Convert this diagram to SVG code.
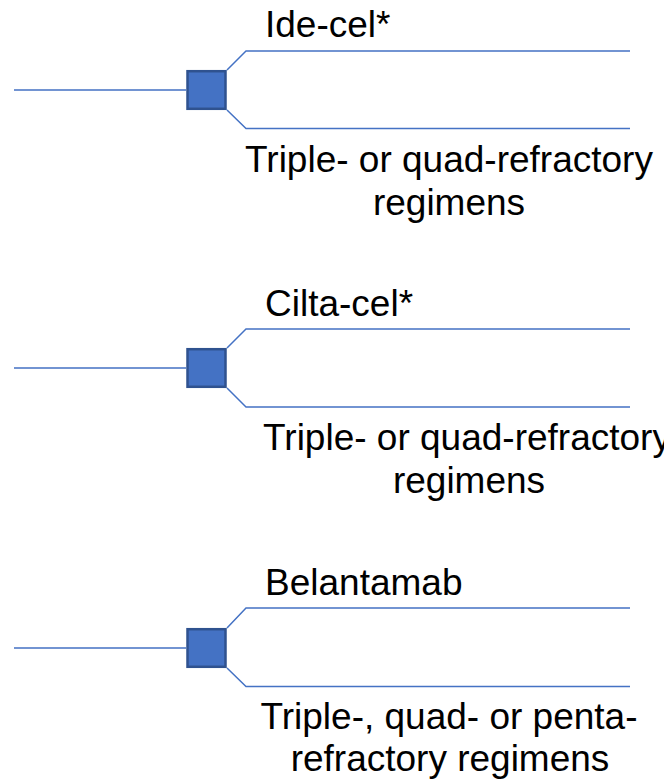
<svg xmlns="http://www.w3.org/2000/svg" width="664" height="779" viewBox="0 0 664 779">
  <style>
    .wire { fill: none; stroke: #4472C4; stroke-width: 1.5; }
    .node { fill: #4472C4; stroke: #2F528F; stroke-width: 2.5; }
    .lbl { font-family: "Liberation Sans", Arial, sans-serif; font-size: 37px; fill: #000; }
    .mid { text-anchor: middle; }
  </style>
  <rect width="664" height="779" fill="#fff"/>

  <!-- connectors: incoming line and the two outgoing branches of each decision -->
  <g id="connectors">
    <path class="wire" d="M14 90 H186 M227 70 L246 51 H630 M227 110 L246 128.5 H630"/>
    <path class="wire" d="M14 368 H186 M227 348 L246 329 H630 M227 388 L246 407 H630"/>
    <path class="wire" d="M14 648 H186 M227 628 L246 608 H630 M227 668 L246 686.5 H630"/>
  </g>

  <g id="node-idecel">
    <rect class="node" x="187.5" y="71.2" width="38" height="37.6"/>
    <text class="lbl" x="265" y="37">Ide-cel*</text>
    <text class="lbl mid" x="449" y="172">Triple- or quad-refractory</text>
    <text class="lbl mid" x="449" y="215">regimens</text>
  </g>

  <g id="node-ciltacel">
    <rect class="node" x="187.5" y="349.2" width="38" height="37.6"/>
    <text class="lbl" x="265" y="316">Cilta-cel*</text>
    <text class="lbl mid" x="467" y="450">Triple- or quad-refractory</text>
    <text class="lbl mid" x="469" y="493">regimens</text>
  </g>

  <g id="node-belantamab">
    <rect class="node" x="187.5" y="629.2" width="38" height="37.6"/>
    <text class="lbl" x="265" y="595">Belantamab</text>
    <text class="lbl mid" x="449" y="729">Triple-, quad- or penta-</text>
    <text class="lbl mid" x="450" y="771">refractory regimens</text>
  </g>
</svg>
